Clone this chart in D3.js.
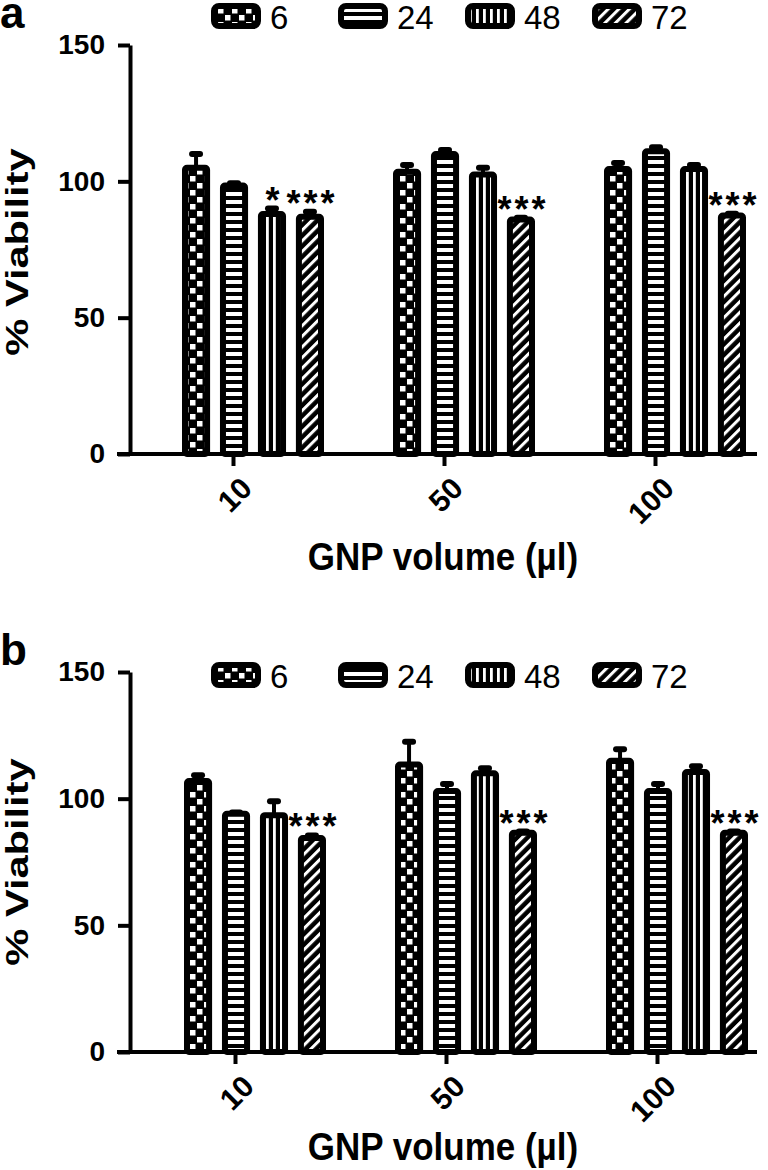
<!DOCTYPE html>
<html>
<head>
<meta charset="utf-8">
<script src="https://cdn.jsdelivr.net/npm/d3@7/dist/d3.min.js"></script>
<style>
  html, body { margin: 0; padding: 0; background: #fff; }
  svg { display: block; }
  text { font-family: "Liberation Sans", Arial, sans-serif; fill: #000; }
</style>
</head>
<body>
<svg id="chart" width="768" height="1170"></svg>
<script>
// ---------- data ----------
const categories = ["10", "50", "100"];
const series = ["6", "24", "48", "72"];
const yTicks = [0, 50, 100, 150];

// panel a: mean % viability [category][series]
const valuesA = [
  [105, 98.5, 88, 87],
  [103.5, 110, 102.5, 86],
  [104.5, 111, 104.5, 87.5]
];
const errorsA = [
  [5, 0.8, 2, 1.8],
  [2.5, 1.5, 2.5, 0.6],
  [2.2, 1.5, 1.5, 0.6]
];
const starsA = [
  ["", "", "*", "***"],
  ["", "", "", "***"],
  ["", "", "", "***"]
];

// panel b
const valuesB = [
  [107, 94, 93.5, 84.5],
  [113.5, 103, 110, 86.5],
  [115, 103, 110.5, 86.5]
];
const errorsB = [
  [2.2, 0.5, 5.5, 1],
  [9, 2.8, 2, 0.5],
  [4.5, 2.8, 2.3, 0.5]
];
const starsB = [
  ["", "", "", "***"],
  ["", "", "", "***"],
  ["", "", "", "***"]
];

const xTitle = "GNP volume (\u00b5l)";
const yTitle = "% Viability";

// ---------- drawing ----------
const svg = d3.select("#chart");
const defs = svg.append("defs");
const patIds = ["pCheck", "pHoriz", "pVert", "pDiag"];

// checkerboard
let p = defs.append("pattern").attr("id", "pCheck").attr("patternUnits", "userSpaceOnUse")
  .attr("width", 14).attr("height", 14);
p.append("rect").attr("width", 14).attr("height", 14).attr("fill", "#000");
p.append("rect").attr("x", 1).attr("y", 1).attr("width", 5.5).attr("height", 5.5).attr("fill", "#fff");
p.append("rect").attr("x", 8).attr("y", 8).attr("width", 5.5).attr("height", 5.5).attr("fill", "#fff");
// horizontal stripes
p = defs.append("pattern").attr("id", "pHoriz").attr("patternUnits", "userSpaceOnUse")
  .attr("width", 8).attr("height", 8);
p.append("rect").attr("width", 8).attr("height", 8).attr("fill", "#000");
p.append("rect").attr("y", 0).attr("width", 8).attr("height", 4).attr("fill", "#fff");
// vertical stripes
p = defs.append("pattern").attr("id", "pVert").attr("patternUnits", "userSpaceOnUse")
  .attr("width", 7).attr("height", 7);
p.append("rect").attr("width", 7).attr("height", 7).attr("fill", "#000");
p.append("rect").attr("x", 0).attr("width", 2.8).attr("height", 7).attr("fill", "#fff");
// diagonal hatch
p = defs.append("pattern").attr("id", "pDiag").attr("patternUnits", "userSpaceOnUse")
  .attr("width", 7.5).attr("height", 7.5).attr("patternTransform", "rotate(45)");
p.append("rect").attr("width", 7.5).attr("height", 7.5).attr("fill", "#000");
p.append("rect").attr("x", 0).attr("width", 3).attr("height", 7.5).attr("fill", "#fff");

const panels = [
  { label: "a", values: valuesA, errors: errorsA, stars: starsA,
    yTop: 45, yBottom: 454, tickL: 233, tickR: 655, legendY: 3, labelY: 28,
    titleY: 570, yTitleCY: 252 },
  { label: "b", values: valuesB, errors: errorsB, stars: starsB,
    yTop: 672, yBottom: 1052, tickL: 235, tickR: 657, legendY: 662, labelY: 665,
    titleY: 1160, yTitleCY: 862 }
];

const axisX = 130, xLineLeft = 117, xLineRight = 757;

panels.forEach(P => {
  const g = svg.append("g");
  const y = d3.scaleLinear().domain([0, 150]).range([P.yBottom, P.yTop]);
  const x = d3.scalePoint().domain(categories).range([P.tickL, P.tickR]);
  const x1 = d3.scaleBand().domain(series).range([-51, 91]).paddingInner(0.26).paddingOuter(0);

  // bars
  categories.forEach((c, ci) => {
    series.forEach((s, si) => {
      const v = P.values[ci][si];
      const bx = x(c) + x1(s);
      const bw = x1.bandwidth();
      g.append("rect")
        .attr("x", bx + 3).attr("y", y(v))
        .attr("width", bw - 6).attr("height", y(0) - y(v))
        .attr("fill", `url(#${patIds[si]})`)
        .attr("stroke", "#000").attr("stroke-width", 6)
        .attr("stroke-linejoin", "round").attr("rx", 2);
      // error bar (upper)
      const e = P.errors[ci][si];
      const cx = bx + bw / 2;
      g.append("line").attr("x1", cx).attr("x2", cx)
        .attr("y1", y(v)).attr("y2", y(v + e))
        .attr("stroke", "#000").attr("stroke-width", 4);
      g.append("line").attr("x1", cx - 4).attr("x2", cx + 4)
        .attr("y1", y(v + e)).attr("y2", y(v + e))
        .attr("stroke", "#000").attr("stroke-width", 6).attr("stroke-linecap", "round");
      // significance stars
      const st = P.stars[ci][si];
      if (st) {
        g.append("text").attr("x", cx + 2).attr("y", y(v + e) + 4)
          .attr("text-anchor", "middle").attr("font-size", 36).attr("font-weight", "bold")
          .attr("letter-spacing", 3).text(st);
      }
    });
  });

  // y axis
  const yAxis = g.append("g").attr("transform", `translate(${axisX},0)`)
    .call(d3.axisLeft(y).tickValues(yTicks).tickSize(12).tickSizeOuter(0).tickPadding(13));
  yAxis.select(".domain").attr("stroke-width", 4).attr("stroke", "#000");
  yAxis.selectAll(".tick line").attr("stroke-width", 4).attr("stroke", "#000");
  yAxis.selectAll(".tick text").attr("font-size", 28).attr("font-weight", "bold")
    .attr("font-family", "Liberation Sans, Arial, sans-serif").attr("fill", "#000");

  // x axis
  const xAxis = g.append("g").attr("transform", `translate(0,${P.yBottom})`)
    .call(d3.axisBottom(x).tickSize(12).tickSizeOuter(0));
  xAxis.select(".domain").remove();
  xAxis.append("line").attr("x1", xLineLeft).attr("x2", xLineRight)
    .attr("stroke", "#000").attr("stroke-width", 4);
  xAxis.selectAll(".tick line").attr("stroke-width", 4).attr("stroke", "#000");
  xAxis.selectAll(".tick text")
    .attr("x", 0).attr("y", 0).attr("dy", "0.72em")
    .attr("transform", "translate(5,21) rotate(-45)")
    .attr("text-anchor", "end")
    .attr("font-size", 30).attr("font-weight", "bold")
    .attr("font-family", "Liberation Sans, Arial, sans-serif").attr("fill", "#000");

  // axis titles
  g.append("text").attr("transform", `translate(443,${P.titleY}) scale(1,1.12)`)
    .attr("text-anchor", "middle").attr("font-size", 35).attr("font-weight", "bold")
    .text(xTitle);
  g.append("text").attr("transform", `translate(28,${P.yTitleCY}) rotate(-90) scale(1.3,1)`)
    .attr("text-anchor", "middle").attr("font-size", 32).attr("font-weight", "bold")
    .text(yTitle);

  // panel label
  g.append("text").attr("x", 0).attr("y", P.labelY)
    .attr("font-size", 44).attr("font-weight", "bold").text(P.label);

  // legend
  const legX = d3.scalePoint().domain(series).range([211, 592]);
  series.forEach((s, si) => {
    const lx = legX(s);
    g.append("rect").attr("x", lx + 3).attr("y", P.legendY + 3)
      .attr("width", 44).attr("height", 20).attr("rx", 5)
      .attr("fill", `url(#${patIds[si]})`).attr("stroke", "#000").attr("stroke-width", 6);
    g.append("text").attr("x", lx + 59).attr("y", P.legendY + 26)
      .attr("font-size", 33).text(s);
  });
});
</script>
</body>
</html>
